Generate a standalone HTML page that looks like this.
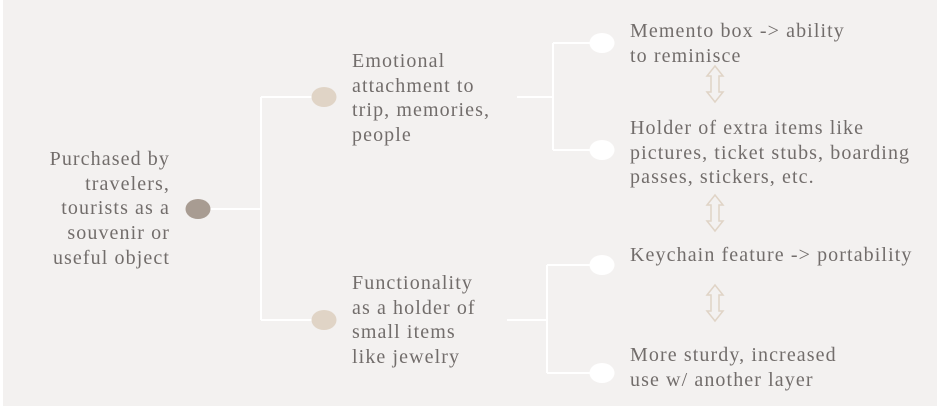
<!DOCTYPE html>
<html><head><meta charset="utf-8"><style>
html,body{margin:0;padding:0}
body{width:940px;height:410px;background:#fff;position:relative;overflow:hidden;font-family:"Liberation Serif",serif;}
.bg{position:absolute;left:3px;top:0;width:934px;height:406px;background:#f3f1f0}
.t{position:absolute;font-size:20px;letter-spacing:1.1px;line-height:24.7px;color:#726d6b;white-space:nowrap}
svg{position:absolute;left:0;top:0}
</style></head><body>
<div class="bg"></div>
<svg width="940" height="410">
<g stroke="#ffffff" stroke-width="2" fill="none">
<path d="M210 209H261M261 97V320M261 97H312M261 320H312"/>
<path d="M517 97H553M553 43V150M553 43H592M553 150H592"/>
<path d="M507 320H547M547 265V373M547 265H592M547 373H592"/>
</g>
<ellipse cx="198" cy="209" rx="12.5" ry="10" fill="#a89c92"/>
<ellipse cx="324" cy="97" rx="12.5" ry="10" fill="#e0d4c6"/>
<ellipse cx="324" cy="320" rx="12.5" ry="10" fill="#e0d4c6"/>
<g fill="#ffffff">
<ellipse cx="602" cy="43" rx="12.5" ry="10"/>
<ellipse cx="602" cy="150" rx="12.5" ry="10"/>
<ellipse cx="602" cy="265" rx="12.5" ry="10"/>
<ellipse cx="602" cy="373" rx="12.5" ry="10"/>
</g>
<g stroke="#e0d4c6" stroke-width="1.5" fill="none">
<path d="M715 66L723 76H719V92H723L715 102L707 92H711V76H707Z"/>
<path d="M715 195L723 205H719V221H723L715 231L707 221H711V205H707Z"/>
<path d="M715 285L723 295H719V311H723L715 321L707 311H711V295H707Z"/>
</g>
</svg>
<div class="t" style="right:770px;top:147px;text-align:right">Purchased by<br>travelers,<br>tourists as a<br>souvenir or<br>useful object</div>
<div class="t" style="left:352px;top:49px">Emotional<br>attachment to<br>trip, memories,<br>people</div>
<div class="t" style="left:352px;top:271px">Functionality<br>as a holder of<br>small items<br>like jewelry</div>
<div class="t" style="left:630px;top:19px">Memento box -&gt; ability<br>to reminisce</div>
<div class="t" style="left:630px;top:116px">Holder of extra items like<br>pictures, ticket stubs, boarding<br>passes, stickers, etc.</div>
<div class="t" style="left:630px;top:243px">Keychain feature -&gt; portability</div>
<div class="t" style="left:630px;top:343px">More sturdy, increased<br>use w/ another layer</div>
</body></html>
